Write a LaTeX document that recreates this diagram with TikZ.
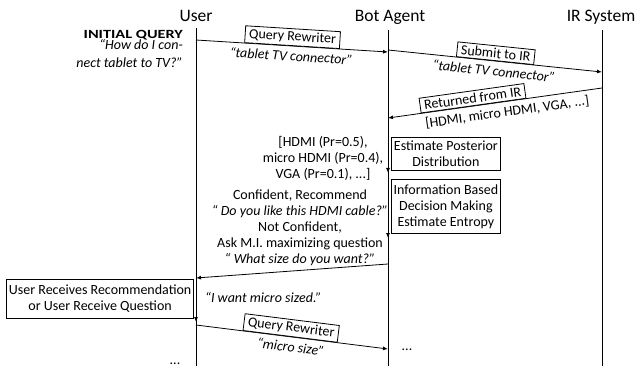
\documentclass[tikz,border=0pt]{standalone}
\usepackage{fontspec}
\setmainfont{Carlito}
\usetikzlibrary{arrows.meta}
\newcommand\bodyfs{\fontsize{14}{16}\selectfont}
\begin{document}
\begin{tikzpicture}[x=1pt,y=-1pt,
  font=\bodyfs,
  msg/.style={-{Latex[length=5pt,width=4pt]}, line width=0.8pt},
  life/.style={line width=0.9pt},
  lbl/.style={draw, line width=0.8pt, inner xsep=4pt, inner ysep=2.5pt, sloped, anchor=south, fill=white},
  sub/.style={font=\bodyfs\itshape, sloped, anchor=north, inner sep=4.5pt},
  subr/.style={font=\bodyfs, sloped, anchor=north, inner sep=4.5pt},
  hdr/.style={font=\fontsize{17.5}{20}\selectfont, anchor=base},
  proc/.style={draw, line width=0.8pt, align=center, inner sep=2pt},
  txt/.style={align=center, inner sep=0pt},
  ital/.style={font=\bodyfs\itshape, inner sep=0pt}]
\useasboundingbox (0,0) rectangle (642,366);
% headers
\node[hdr] (hU) at (196,22) {User};
\node[hdr] (hB) at (390,22) {Bot Agent};
\node[hdr] (hR) at (601,22) {IR System};
% lifelines
\coordinate (uT) at (196,28); \coordinate (uB) at (196,366);
\coordinate (bT) at (388,30); \coordinate (bB) at (388,366);
\coordinate (rT) at (602,30); \coordinate (rB) at (602,366);
\draw[life] (uT) -- (uB);
\draw[life] (bT) -- (bB);
\draw[life] (rT) -- (rB);
% initial query
\node[anchor=base east, font=\fontsize{12.5}{15}\selectfont\bfseries, inner sep=0pt] (iq) at (183,38.5) {\scalebox{1.3}[1]{INITIAL QUERY}};
\node[ital, anchor=base east] (iq1) at (183,50) {“How do I con-};
\node[ital, anchor=base east] (iq2) at (183,68) {nect tablet to TV?”};
% message 1
\coordinate (m1s) at (196,40); \coordinate (m1e) at (388,52);
\draw[msg] (m1s) -- (m1e)
  node[lbl, pos=0.5] (qr1) {Query Rewriter}
  node[sub, pos=0.5] (t1) {“tablet TV connector”};
% message 2
\coordinate (m2s) at (388,50); \coordinate (m2e) at (602,72);
\draw[msg] (m2s) -- (m2e)
  node[lbl, pos=0.5] (sir) {Submit to IR}
  node[sub, pos=0.5] (t2) {“tablet TV connector”};
% message 3
\coordinate (m3s) at (602,88); \coordinate (m3e) at (388,118);
\draw[msg] (m3s) -- (m3e)
  node[lbl, pos=0.6] (rir) {Returned from IR}
  node[subr, pos=0.45] (t3) {[HDMI, micro HDMI, VGA, ...]};
% processing boxes
\node[proc, anchor=north west, minimum width=109pt, minimum height=33pt] (p1) at (391,137) {Estimate Posterior\\Distribution};
\node[proc, anchor=north west, minimum width=109pt, minimum height=54pt] (p2) at (391,179) {Information Based\\Decision Making\\Estimate Entropy};
\coordinate (a1s) at (388,137); \coordinate (a1e) at (388,173);
\coordinate (a2s) at (388,179); \coordinate (a2e) at (388,238);
\draw[msg] (a1s) -- (a1e);
\draw[msg] (a2s) -- (a2e);
\node[txt] (d1) at (323,158) {[HDMI (Pr=0.5),\\micro HDMI (Pr=0.4),\\VGA (Pr=0.1), ...]};
\node[txt] (d2) at (300,228) {Confident, Recommend\\{\itshape “ Do you like this HDMI cable?”}\\Not Confident,\\Ask M.I. maximizing question\\{\itshape “ What size do you want?”}};
% message back to user
\coordinate (m4s) at (388,264); \coordinate (m4e) at (196,278);
\draw[msg] (m4s) -- (m4e);
% user box
\node[proc, anchor=north east, minimum width=187pt, minimum height=39pt] (ub) at (194,279) {User Receives Recommendation\\or User Receive Question};
\coordinate (a3s) at (196,280); \coordinate (a3e) at (196,322);
\draw[msg] (a3s) -- (a3e);
\node[ital, anchor=base west] (iw) at (205,302) {“I want micro sized.”};
% message 5
\coordinate (m5s) at (196,325); \coordinate (m5e) at (388,349);
\draw[msg] (m5s) -- (m5e)
  node[lbl, pos=0.49] (qr2) {Query Rewriter}
  node[sub, pos=0.5] (t5) {“micro size”};
% dots
\node[anchor=base, inner sep=0pt] (dl) at (175,364) {...};
\node[anchor=base, inner sep=0pt] (dr) at (407,350) {...};
\end{tikzpicture}
\end{document}
